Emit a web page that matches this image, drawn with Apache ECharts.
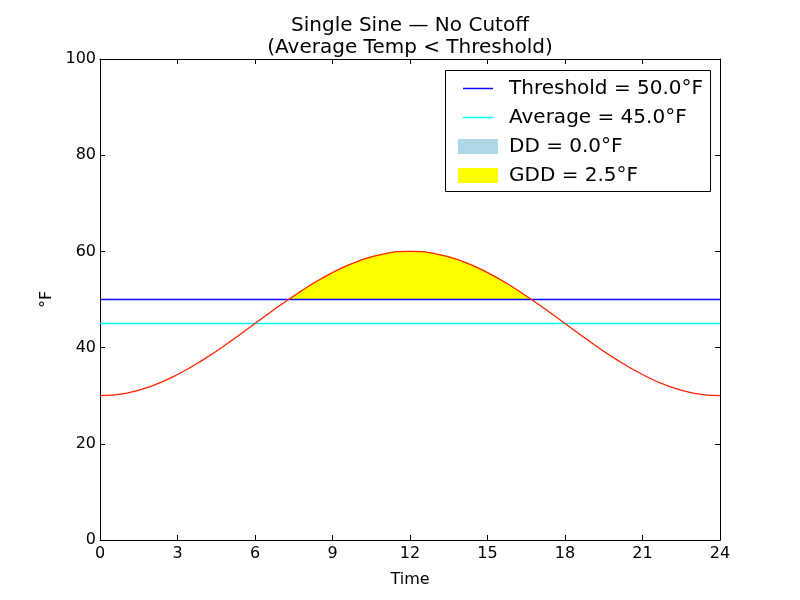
<!DOCTYPE html>
<html>
<head>
<meta charset="utf-8">
<script src="https://cdn.jsdelivr.net/npm/echarts@6/dist/echarts.min.js"></script>
<style>
  html, body { margin: 0; padding: 0; background: #fff; }
  #chart-container { width: 800px; height: 600px; }
</style>
</head>
<body>
<div id="chart-container"></div>
<script>
var dom = document.getElementById("chart-container");
var myChart = echarts.init(dom, null, { renderer: "canvas" });

// hourly temperatures (°F)
const hours = [0, 1, 2, 3, 4, 5, 6, 7, 7.3, 8, 9, 10, 11, 12, 13, 14, 15, 16, 16.7, 17, 18, 19, 20, 21, 22, 23, 24];
const temps = [30, 30.5, 32, 34.4, 37.5, 41.1, 45, 48.9, 50, 52.5, 55.6, 58, 59.5, 60, 59.5, 58, 55.6, 52.5, 50, 48.9, 45, 41.1, 37.5, 34.4, 32, 30.5, 30];
const threshold = 50;
const average = 45;
const xTicks = [0, 24, 3];   // min, max, interval
const yTicks = [0, 100, 20];
const labels = ["Threshold = 50.0°F", "Average = 45.0°F", "DD = 0.0°F", "GDD = 2.5°F"];

const FONT = "DejaVu Sans";
const BLUE = "rgb(10,10,255)";
const CYAN = "rgb(0,255,255)";
const YELLOW = "rgb(255,255,0)";
const LIGHTBLUE = "rgb(173,216,230)";
const RED = "rgb(255,34,0)";
const LINE_ICON = "path://M0,0H30V1.5H0Z";
const curve = hours.map((h, i) => [h, temps[i]]);
const above = curve.filter(p => p[1] >= threshold);

// shared look of the four frame axes
function frameAxis(extra) {
  return Object.assign({
    type: "value",
    axisLine: { show: true, onZero: false, lineStyle: { color: "#000", width: 1 } },
    axisTick: { show: true, inside: true, length: 5, lineStyle: { color: "#000" } },
    axisLabel: { fontFamily: FONT, fontSize: 16, color: "#000", margin: 4 },
    splitLine: { show: false },
  }, extra);
}

var option;

option = {
  animation: false,
  title: {
    text: "Single Sine — No Cutoff\n(Average Temp < Threshold)",
    left: 405,
    textAlign: "center",
    top: 10,
    textStyle: { fontFamily: FONT, fontSize: 20, fontWeight: "normal", color: "#000", lineHeight: 22 },
  },
  grid: { left: 100, right: 80, top: 59, bottom: 60 },
  xAxis: [
    frameAxis({
      min: xTicks[0], max: xTicks[1], interval: xTicks[2],
      name: "Time", nameLocation: "middle", nameGap: 32,
      nameTextStyle: { fontFamily: FONT, fontSize: 16, color: "#000" },
      axisLabel: { fontFamily: FONT, fontSize: 16, color: "#000", margin: 6 },
    }),
    frameAxis({
      position: "top",
      min: xTicks[0], max: xTicks[1], interval: xTicks[2],
      axisLabel: { show: false },
    }),
  ],
  yAxis: [
    frameAxis({
      min: yTicks[0], max: yTicks[1], interval: yTicks[2],
      name: "°F", nameLocation: "middle", nameGap: 38,
      nameTextStyle: { fontFamily: FONT, fontSize: 16, color: "#000" },
    }),
    frameAxis({
      position: "right",
      min: yTicks[0], max: yTicks[1], interval: yTicks[2],
      axisLabel: { show: false },
    }),
  ],
  legend: [
    {
      orient: "vertical", left: 458, top: 73,
      itemWidth: 30, itemHeight: 15, itemGap: 8,
      textStyle: { fontFamily: FONT, fontSize: 20, color: "#000", lineHeight: 21, padding: [0, 0, 0, 11] },
      data: [
        { name: labels[0], icon: LINE_ICON, itemStyle: { color: BLUE, borderWidth: 0 } },
        { name: labels[1], icon: LINE_ICON, itemStyle: { color: CYAN, borderWidth: 0 } },
      ],
    },
    {
      orient: "vertical", left: 453, top: 131,
      itemWidth: 40, itemHeight: 15, itemGap: 8,
      textStyle: { fontFamily: FONT, fontSize: 20, color: "#000", lineHeight: 21, padding: [0, 0, 0, 6] },
      data: [
        { name: labels[2], icon: "rect", itemStyle: { color: LIGHTBLUE } },
        { name: labels[3], icon: "rect", itemStyle: { color: YELLOW } },
      ],
    },
  ],
  graphic: [
    {
      type: "rect",
      shape: { x: 445.5, y: 70.5, width: 265, height: 121 },
      style: { fill: "none", stroke: "#000", lineWidth: 1 },
      z: 10,
    },
  ],
  series: [
    {
      name: labels[3],
      type: "line",
      data: above,
      smooth: true,
      symbol: "none",
      color: YELLOW,
      lineStyle: { color: YELLOW, width: 1 },
      areaStyle: { origin: threshold, color: YELLOW, opacity: 1 },
      z: 1,
    },
    {
      name: labels[2],
      type: "line",
      data: [],
      symbol: "none",
      color: LIGHTBLUE,
      areaStyle: { color: LIGHTBLUE, opacity: 1 },
    },
    {
      name: labels[0],
      type: "line",
      data: [[xTicks[0], threshold], [xTicks[1], threshold]],
      symbol: "none",
      color: BLUE,
      lineStyle: { color: BLUE, width: 1.3 },
      z: 3,
    },
    {
      name: labels[1],
      type: "line",
      data: [[xTicks[0], average], [xTicks[1], average]],
      symbol: "none",
      color: CYAN,
      lineStyle: { color: CYAN, width: 1.5 },
      z: 3,
    },
    {
      name: "curve",
      type: "line",
      data: curve,
      smooth: true,
      symbol: "none",
      color: RED,
      lineStyle: { color: RED, width: 1.3 },
      z: 4,
    },
  ],
};

if (option && typeof option === "object") {
  myChart.setOption(option);
}

window.addEventListener("resize", myChart.resize);
</script>
</body>
</html>
